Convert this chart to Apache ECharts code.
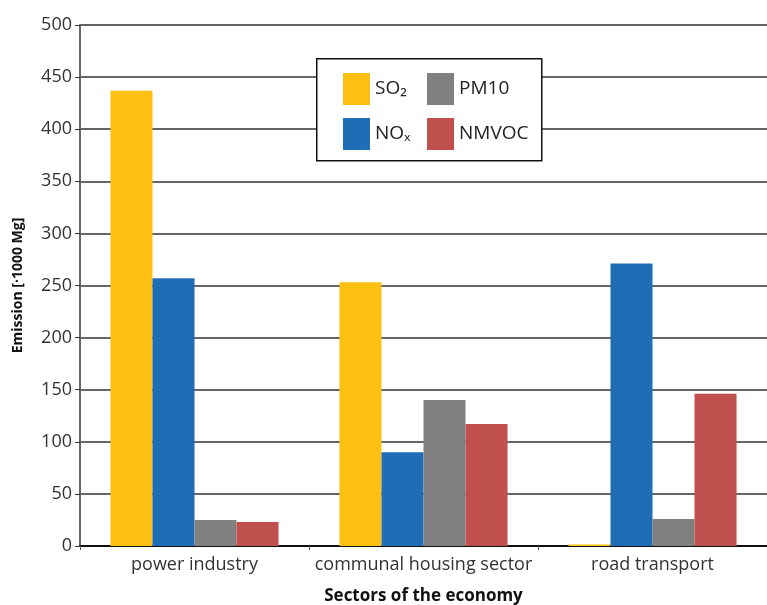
<!DOCTYPE html>
<html><head><meta charset="utf-8">
<script src="https://cdn.jsdelivr.net/npm/echarts@6/dist/echarts.min.js"></script>
<style>html,body{margin:0;padding:0;background:#fff}#c{width:767px;height:605px}</style>
</head><body><div id="c"></div>
<script>
const categories = ['power industry', 'communal housing sector', 'road transport'];
const seriesNames = ['SO₂', 'NOₓ', 'PM10', 'NMVOC'];
const so2 = [437, 253, 1.5];
const nox = [257, 90, 271];
const pm10 = [25, 140, 26];
const nmvoc = [23, 117, 146];
const yTicks = [0, 50, 100, 150, 200, 250, 300, 350, 400, 450, 500];

const colors = ['#FDBF11', '#1F6EB5', '#808080', '#C0504D'];
const values = [so2, nox, pm10, nmvoc];
const font = "'Open Sans', 'Noto Sans', sans-serif";

const chart = echarts.init(document.getElementById('c'));
const legendCommon = {
  orient: 'vertical', itemWidth: 27, itemHeight: 32, itemGap: 13, padding: 0,
  icon: 'rect', selectedMode: false,
  textStyle: { fontFamily: font, fontSize: 19, color: '#222' }
};
chart.setOption({
  animation: false,
  backgroundColor: '#fff',
  color: colors,
  grid: { left: 80, right: 0, top: 25, bottom: 59, containLabel: false, outerBoundsMode: 'none' },
  graphic: [{
    type: 'rect', left: 316, top: 58, z: 5,
    shape: { width: 225, height: 102 },
    style: { fill: '#fff', stroke: '#111', lineWidth: 1.5 }
  }],
  legend: [
    Object.assign({}, legendCommon, { left: 343, top: 73, data: [seriesNames[0], seriesNames[1]], z: 10 }),
    Object.assign({}, legendCommon, { left: 427, top: 73, data: [seriesNames[2], seriesNames[3]], z: 10 })
  ],
  xAxis: {
    type: 'category', data: categories,
    name: 'Sectors of the economy', nameLocation: 'middle', nameGap: 42,
    nameTextStyle: { fontFamily: font, fontSize: 17, fontWeight: 'bold', color: '#111' },
    axisLine: { lineStyle: { color: '#111', width: 2 } },
    axisTick: { show: true, length: 4, lineStyle: { color: '#555' } },
    axisLabel: { fontFamily: font, fontSize: 18, color: '#333', margin: 10, interval: 0 }
  },
  yAxis: {
    type: 'value', min: 0, max: 500, interval: 50,
    name: 'Emission [·1000 Mg]', nameLocation: 'middle', nameGap: 55, nameRotate: 90,
    nameTextStyle: { fontFamily: font, fontSize: 14, fontWeight: 'bold', color: '#111' },
    axisLine: { show: true, lineStyle: { color: '#666', width: 2 } },
    axisTick: { show: true, length: 5, lineStyle: { color: '#333' } },
    axisLabel: { fontFamily: font, fontSize: 18, color: '#333', margin: 8,
      formatter: v => yTicks.includes(v) ? String(v) : '' },
    splitLine: { show: true, lineStyle: { color: '#333', width: 1.5 } }
  },
  series: seriesNames.map((n, i) => ({
    name: n, type: 'bar', data: values[i],
    barGap: '0%', barCategoryGap: '26.6%',
    itemStyle: { color: colors[i] }
  }))
});
</script></body></html>
